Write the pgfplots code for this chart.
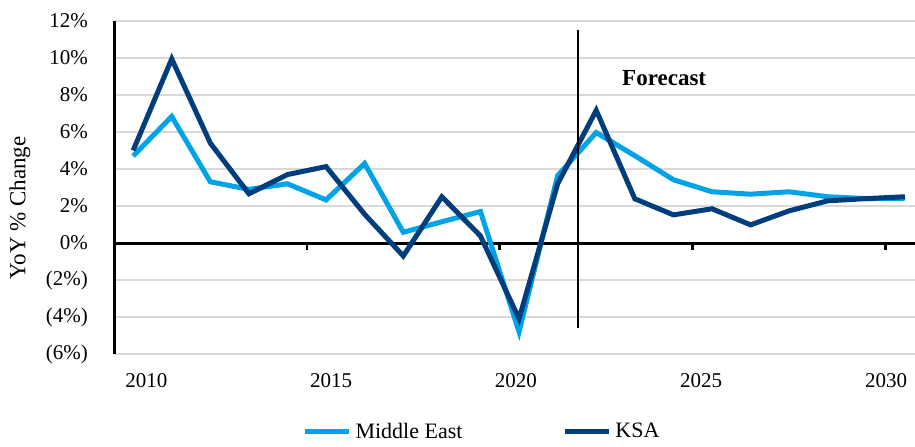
\documentclass[border=0pt]{standalone}
\usepackage{fontspec}
\setmainfont{Liberation Serif}
\usepackage{pgfplots}
\pgfplotsset{compat=1.18}
\definecolor{me}{RGB}{0,162,232}
\definecolor{ksa}{RGB}{0,61,124}
\definecolor{gridgray}{RGB}{217,217,217}
\pgfplotstableread{
year ME KSA
2010 4.70 5.00
2011 6.84 9.95
2012 3.31 5.40
2013 2.90 2.66
2014 3.20 3.70
2015 2.33 4.13
2016 4.30 1.55
2017 0.58 -0.70
2018 1.15 2.50
2019 1.70 0.38
2020 -4.80 -4.10
2021 3.64 3.20
2022 5.97 7.17
2023 4.72 2.39
2024 3.42 1.52
2025 2.77 1.85
2026 2.64 0.98
2027 2.77 1.74
2028 2.50 2.28
2029 2.40 2.40
2030 2.42 2.50
}\datatable
\begin{document}
\begin{tikzpicture}
\useasboundingbox (0,0) rectangle (457.5pt,223pt);
\begin{axis}[
  at={(57.5pt,46pt)}, anchor=south west,
  scale only axis, width=400pt, height=166.5pt,
  xmin=2009.53, xmax=2030.26, ymin=-6, ymax=12,
  axis y line*=left, axis x line*=bottom,
  x axis line style={draw=none},
  y axis line style={black, line width=1.5pt, -},
  ytick={-6,-4,...,12},
  yticklabels={(6\%),(4\%),(2\%),0\%,2\%,4\%,6\%,8\%,10\%,12\%},
  ymajorgrids, grid style={gridgray, line width=1pt},
  extra y ticks={0}, extra y tick labels={},
  extra y tick style={grid style={black, line width=1.5pt}, major tick length=0},
  xtick={2010.34,2015.13,2019.92,2024.72,2029.51},
  xticklabels={2010,2015,2020,2025,2030},
  major tick length=0,
  tick label style={font=\fontsize{10.5}{12}\selectfont},
  xticklabel style={yshift=-6pt},
  yticklabel style={xshift=-10pt},
  /pgf/number format/assume math mode=true,
  clip=false,
  legend columns=2,
  legend style={at={(0.46,-0.234)}, anchor=center, draw=none,
    font=\fontsize{11}{13}\selectfont,
    /tikz/every even column/.append style={column sep=48pt}},
  legend image code/.code={\draw[#1] (0pt,0pt) -- (22pt,0pt);},
]
\addplot[me, line width=2.5pt] table[x=year, y=ME] {\datatable};
\addlegendentry{Middle East}
\addplot[ksa, line width=2.5pt] table[x=year, y=KSA] {\datatable};
\addlegendentry{KSA}
\addplot[black, line width=0.8pt, forget plot] coordinates {(2021.53,11.5) (2021.53,-4.6)};
\pgfplotsinvokeforeach{2014.5,2019.5,2024.5,2029.5}{
  \draw[black, line width=1.3pt] (axis cs:#1,0) -- ([yshift=-3.5pt]axis cs:#1,0);
}
\node[font=\bfseries\fontsize{11.5}{13}\selectfont] at (axis cs:2023.76,8.9) {Forecast};
\end{axis}
\node[rotate=90, font=\fontsize{11.5}{13}\selectfont] at (10pt,119pt) {YoY \% Change};
\end{tikzpicture}
\end{document}
